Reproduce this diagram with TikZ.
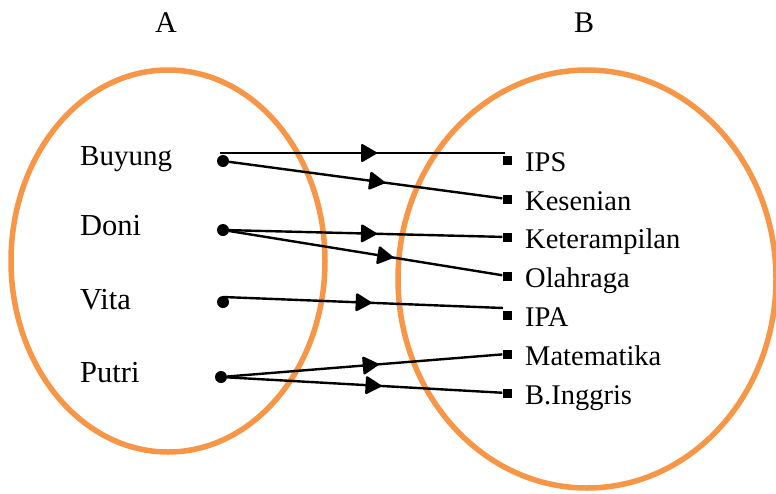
\documentclass[tikz,border=0pt]{standalone}
\usepackage{fontspec}
\setmainfont{Liberation Serif}
\usetikzlibrary{arrows.meta,decorations.markings}
\definecolor{setorange}{HTML}{F79646}
\begin{document}
\begin{tikzpicture}[x=1pt,y=-1pt,
  setline/.style={draw=setorange, line width=5.5pt},
  dotnode/.style={circle, fill=black, inner sep=0pt, minimum size=12pt},
  sqnode/.style={rectangle, fill=black, inner sep=0pt, minimum size=9pt},
  rlbl/.style={anchor=base west, inner sep=0pt, font=\fontsize{28.5}{30}\selectfont},
  llbl/.style={anchor=base west, inner sep=0pt, font=\fontsize{30.5}{32}\selectfont},
  setlbl/.style={anchor=base, inner sep=0pt, font=\fontsize{30}{32}\selectfont},
  maparrow/.style={line width=2.4pt, postaction={decorate},
    decoration={markings, mark=at position #1 with {\arrow{Triangle[length=17pt,width=19pt,round]}}}},
]
\useasboundingbox (0,0) rectangle (776,493);
% sets
\draw[setline] (168,261) ellipse [x radius=157pt, y radius=191pt];
\draw[setline] (587,279) ellipse [x radius=189pt, y radius=209pt];
\node[setlbl] (labA) at (166,32) {A};
\node[setlbl] (labB) at (584,32) {B};
% domain
\node[rlbl, font=\fontsize{29}{30}\selectfont] (tBuy) at (80,165) {Buyung};
\node[llbl] (tDon) at (80,235) {Doni};
\node[llbl] (tVit) at (80,309) {Vita};
\node[llbl] (tPut) at (80,382) {Putri};
\node[dotnode] (b1) at (223,161) {};
\node[dotnode] (d1) at (223,230) {};
\node[dotnode] (v1) at (223,302) {};
\node[dotnode] (p1) at (221,377) {};
% codomain
\node[sqnode] (ips) at (507,160) {};
\node[sqnode] (kes) at (507,199) {};
\node[sqnode] (ket) at (507,237) {};
\node[sqnode] (ola) at (507,276) {};
\node[sqnode] (ipa) at (507,315) {};
\node[sqnode] (mat) at (507,354) {};
\node[sqnode] (bin) at (507,393) {};
\node[rlbl] (tIps) at (525,171) {IPS};
\node[rlbl] (tKes) at (525,210) {Kesenian};
\node[rlbl] (tKet) at (525,248) {Keterampilan};
\node[rlbl] (tOla) at (525,287) {Olahraga};
\node[rlbl] (tIpa) at (525,326) {IPA};
\node[rlbl] (tMat) at (525,365) {Matematika};
\node[rlbl] (tBin) at (525,404) {B.Inggris};
% offset attachment points
\coordinate (b1t) at ([yshift=8pt,xshift=-3pt]b1.center);
\coordinate (ipst) at ([yshift=7pt,xshift=-2pt]ips.center);
\coordinate (v1t) at ([yshift=5pt]v1.center);
\coordinate (ipat) at ([yshift=7pt,xshift=-4pt]ipa.center);
% mappings
\draw[maparrow=0.55] (b1t) -- (ipst);
\draw[maparrow=0.57] (b1) -- (kes);
\draw[maparrow=0.54] (d1) -- (ket);
\draw[maparrow=0.60] (d1) -- (ola);
\draw[maparrow=0.53] (v1t) -- (ipat);
\draw[maparrow=0.55] (p1) -- (mat);
\draw[maparrow=0.56] (p1) -- (bin);
\end{tikzpicture}
\end{document}
